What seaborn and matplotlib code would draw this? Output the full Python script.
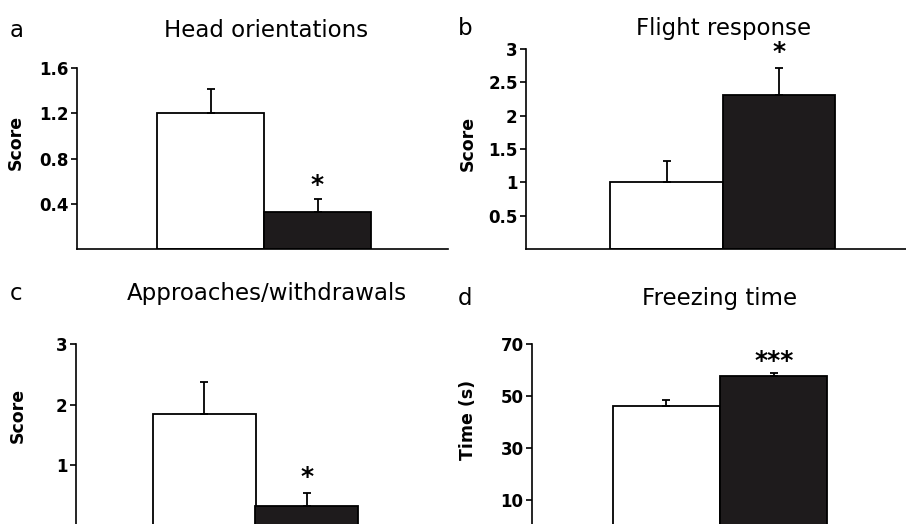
import numpy as np
import pandas as pd
import matplotlib
matplotlib.use("Agg")
import matplotlib.pyplot as plt
import seaborn as sns

# groups (white = control, black = treated)
groups = ["Control", "Treated"]
bar_colors = ["white", "#1e1b1c"]

# panel data: means and upper error (SEM)
head_mean = [1.20, 0.33]
head_err = [0.21, 0.11]
flight_mean = [1.00, 2.31]
flight_err = [0.32, 0.40]
appr_mean = [1.85, 0.33]
appr_err = [0.53, 0.21]
freeze_mean = [46.0, 57.7]
freeze_err = [2.5, 1.2]

titles = ["Head orientations", "Flight response", "Approaches/withdrawals", "Freezing time"]
letters = ["a", "b", "c", "d"]
ylabels = ["Score", "Score", "Score", "Time (s)"]
yticks = [[0.4, 0.8, 1.2, 1.6], [0.5, 1, 1.5, 2, 2.5, 3], [1, 2, 3], [10, 30, 50, 70]]
yticklabels = [["0.4", "0.8", "1.2", "1.6"], ["0.5", "1", "1.5", "2", "2.5", "3"],
               ["1", "2", "3"], ["10", "30", "50", "70"]]
ylims = [(0, 1.6), (0, 3), (0, 3), (0, 70)]
stars = ["*", "*", "*", "***"]
star_y = [0.57, 2.95, 0.80, 63.5]

sns.set_style("ticks")
plt.rcParams["font.family"] = ["DejaVu Sans"]
plt.rcParams.update({"text.color": "black", "axes.labelcolor": "black",
                     "xtick.color": "black", "ytick.color": "black",
                     "axes.edgecolor": "black"})

W, H = 906, 524
fig = plt.figure(figsize=(W / 100, H / 100), dpi=100)


def px_axes(x0, x1, ytop, ybase):
    return fig.add_axes([x0 / W, (H - ybase) / H, (x1 - x0) / W, (ybase - ytop) / H])


axes = [
    px_axes(77, 448, 68, 249),
    px_axes(526, 906, 49, 249),
    px_axes(76, 435, 344, 526),
    px_axes(532, 908, 344, 526),
]
xlims = [(-1.25, 2.22), (-1.25, 2.13), (-1.25, 2.25), (-1.25, 2.25)]

means = [head_mean, flight_mean, appr_mean, freeze_mean]
errs = [head_err, flight_err, appr_err, freeze_err]

# title / letter baselines and label positions in pixels
title_pos = [(266, 37), (724, 35), (267, 300), (720, 305)]
letter_pos = [(10, 37), (458, 35), (10, 300), (458, 305)]
ylab_pos = [(25, 142), (477, 143), (27, 415), (477, 420)]

for i, ax in enumerate(axes):
    df = pd.DataFrame({"group": groups, "value": means[i]})
    sns.barplot(data=df, x="group", y="value", hue="group", palette=bar_colors,
                edgecolor="black", linewidth=1.3, width=1, legend=False, ax=ax)
    ax.errorbar(range(len(groups)), means[i], yerr=[np.zeros(len(groups)), errs[i]],
                fmt="none", ecolor="black", elinewidth=1.3, capsize=3, capthick=1.3, zorder=1)
    ax.set_xlim(*xlims[i])
    ax.set_ylim(*ylims[i])
    ax.set_yticks(yticks[i])
    ax.set_yticklabels(yticklabels[i], fontsize=12, fontweight="bold")
    ax.set_xticks([])
    ax.set_xlabel("")
    ax.set_ylabel(ylabels[i], fontsize=12.5, fontweight="bold")
    ax.yaxis.set_label_coords(ylab_pos[i][0] / W, (H - ylab_pos[i][1]) / H,
                              transform=fig.transFigure)
    sns.despine(ax=ax)
    ax.spines["left"].set_linewidth(1.2)
    ax.spines["bottom"].set_linewidth(1.2)
    ax.tick_params(axis="y", length=4, width=1.2, pad=2)
    ax.patch.set_alpha(0)
    ax.text(1, star_y[i], stars[i], ha="center", va="center",
            fontsize=18, fontweight="bold")
    fig.text(title_pos[i][0] / W, (H - title_pos[i][1]) / H, titles[i],
             ha="center", va="baseline", fontsize=16.5)
    fig.text(letter_pos[i][0] / W, (H - letter_pos[i][1]) / H, letters[i],
             ha="left", va="baseline", fontsize=16.5)

fig.savefig("out.png", dpi=100)
